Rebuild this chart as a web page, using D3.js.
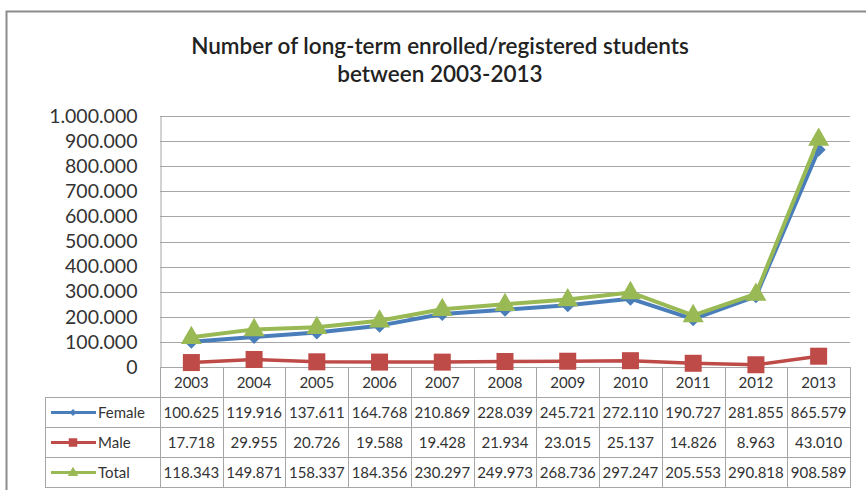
<!DOCTYPE html>
<html>
<head>
<meta charset="utf-8">
<script src="https://cdn.jsdelivr.net/npm/d3@7"></script>
<style>
  body { margin: 0; background: #fff; }
  svg { display: block; font-family: Lato, "Open Sans", sans-serif; }
</style>
</head>
<body>
<script>
// data
var years = ["2003","2004","2005","2006","2007","2008","2009","2010","2011","2012","2013"];
var female = [100625,119916,137611,164768,210869,228039,245721,272110,190727,281855,865579];
var male = [17718,29955,20726,19588,19428,21934,23015,25137,14826,8963,43010];
var total = [118343,149871,158337,184356,230297,249973,268736,297247,205553,290818,908589];
var yTicks = [0,100000,200000,300000,400000,500000,600000,700000,800000,900000,1000000];

var w = 866, h = 490;
var plotL = 160, plotR = 850, plotT = 116, plotB = 367;
var rowH = 30;
var tableL = 45;
var colors = {Female:"#4a7ebb", Male:"#be4b48", Total:"#98b954"};
var grid = "#a6a6a6";
var txt = "#333";

var svg = d3.select("body").append("svg")
  .attr("width", w).attr("height", h);

// chart border
svg.append("rect")
  .attr("x", 6.5).attr("y", 11.5)
  .attr("width", 870).attr("height", 490)
  .attr("fill", "none").attr("stroke", "#8c8c8c").attr("stroke-width", 2);

// title
var title = svg.append("text")
  .attr("text-anchor", "middle")
  .attr("font-size", 22.5).attr("font-weight", 600).attr("fill", "#222");
title.append("tspan").attr("x", 440).attr("y", 54).text("Number of long-term enrolled/registered students");
title.append("tspan").attr("x", 440).attr("y", 82).text("between 2003-2013");

var x = d3.scaleBand().domain(years).range([plotL, plotR]);
var y = d3.scaleLinear().domain([0, 1000000]).range([plotB, plotT]);

// grid
svg.append("g").selectAll("line")
  .data(yTicks)
  .join("line")
  .attr("x1", plotL).attr("x2", plotR)
  .attr("y1", function(d){ return Math.round(y(d)) + 0.5; })
  .attr("y2", function(d){ return Math.round(y(d)) + 0.5; })
  .attr("stroke", grid);

// y axis
var fmt = function(d){ return d3.format(",")(d).replace(/,/g, "."); };
var yAxis = svg.append("g")
  .attr("transform", "translate(" + (plotL + 0.5) + ",0)")
  .call(d3.axisLeft(y).tickValues(yTicks).tickSize(0).tickPadding(23).tickFormat(fmt));
yAxis.select(".domain").attr("stroke", grid);
yAxis.selectAll("text").attr("font-size", 19.5).attr("fill", txt)
  .attr("font-family", "Lato, sans-serif");

// table lines
var tbl = svg.append("g").attr("stroke", grid).attr("fill", "none");
x.domain().forEach(function(d){
  var xx = Math.round(x(d)) + 0.5;
  tbl.append("line").attr("x1", xx).attr("x2", xx).attr("y1", plotB).attr("y2", plotB + rowH*4);
});
tbl.append("line").attr("x1", plotR + 0.5).attr("x2", plotR + 0.5).attr("y1", plotB).attr("y2", plotB + rowH*4);
tbl.append("line").attr("x1", tableL + 0.5).attr("x2", tableL + 0.5).attr("y1", plotB + rowH).attr("y2", plotB + rowH*4);
for (var r = 1; r <= 4; r++) {
  tbl.append("line").attr("x1", tableL).attr("x2", plotR + 1)
    .attr("y1", plotB + rowH*r + 0.5).attr("y2", plotB + rowH*r + 0.5);
}

// year labels
svg.append("g").selectAll("text")
  .data(years)
  .join("text")
  .attr("x", function(d){ return x(d) + x.bandwidth()/2; })
  .attr("y", plotB + 21)
  .attr("text-anchor", "middle")
  .attr("font-size", 15).attr("fill", txt)
  .text(function(d){ return d; });

var data = [
  {name:"Female", values:female, marker:"diamond", width:4},
  {name:"Male", values:male, marker:"square", width:3.5},
  {name:"Total", values:total, marker:"triangle", width:4}
];

var numFmt = function(d){ return d3.format(",")(d).replace(/,/g, "."); };

function drawMarker(g, cx, cy, type, col, k) {
  if (type === "square") {
    var sz = 17*k;
    g.append("rect").attr("x", cx - sz/2).attr("y", cy - sz/2).attr("width", sz).attr("height", sz).attr("fill", col);
  } else if (type === "diamond") {
    var d = 7*k;
    g.append("path").attr("d", "M"+cx+","+(cy-d)+"L"+(cx+d)+","+cy+"L"+cx+","+(cy+d)+"L"+(cx-d)+","+cy+"Z").attr("fill", col);
  } else {
    var t = 10.5*k;
    g.append("path").attr("d", "M"+cx+","+(cy-t*1.1)+"L"+(cx+t)+","+(cy+t*0.65)+"L"+(cx-t)+","+(cy+t*0.65)+"Z").attr("fill", col);
  }
}

// table values and legend keys
data.forEach(function(s, i){
  var rowY = plotB + rowH*(i+1);
  svg.append("g").selectAll("text")
    .data(s.values)
    .join("text")
    .attr("x", function(d, j){ return x(years[j]) + x.bandwidth()/2; })
    .attr("y", rowY + 21)
    .attr("text-anchor", "middle")
    .attr("font-size", 15).attr("fill", txt)
    .text(numFmt);
  svg.append("text")
    .attr("x", 98).attr("y", rowY + 21)
    .attr("font-size", 15).attr("fill", txt)
    .text(s.name);
  var ky = rowY + rowH/2 + 0.5;
  svg.append("line").attr("x1", 51).attr("x2", 96).attr("y1", ky).attr("y2", ky)
    .attr("stroke", colors[s.name]).attr("stroke-width", 3);
  drawMarker(svg, 73, ky, s.marker, colors[s.name], 0.5);
});

// lines and markers
var line = d3.line()
  .x(function(d, j){ return x(years[j]) + x.bandwidth()/2; })
  .y(function(d){ return y(d); });

data.forEach(function(s){
  svg.append("path")
    .datum(s.values)
    .attr("d", line)
    .attr("fill", "none")
    .attr("stroke", colors[s.name])
    .attr("stroke-width", s.width)
    .attr("stroke-linejoin", "round");
  var mg = svg.append("g");
  s.values.forEach(function(v, j){
    drawMarker(mg, x(years[j]) + x.bandwidth()/2, y(v), s.marker, colors[s.name], 1);
  });
});
</script>
</body>
</html>
